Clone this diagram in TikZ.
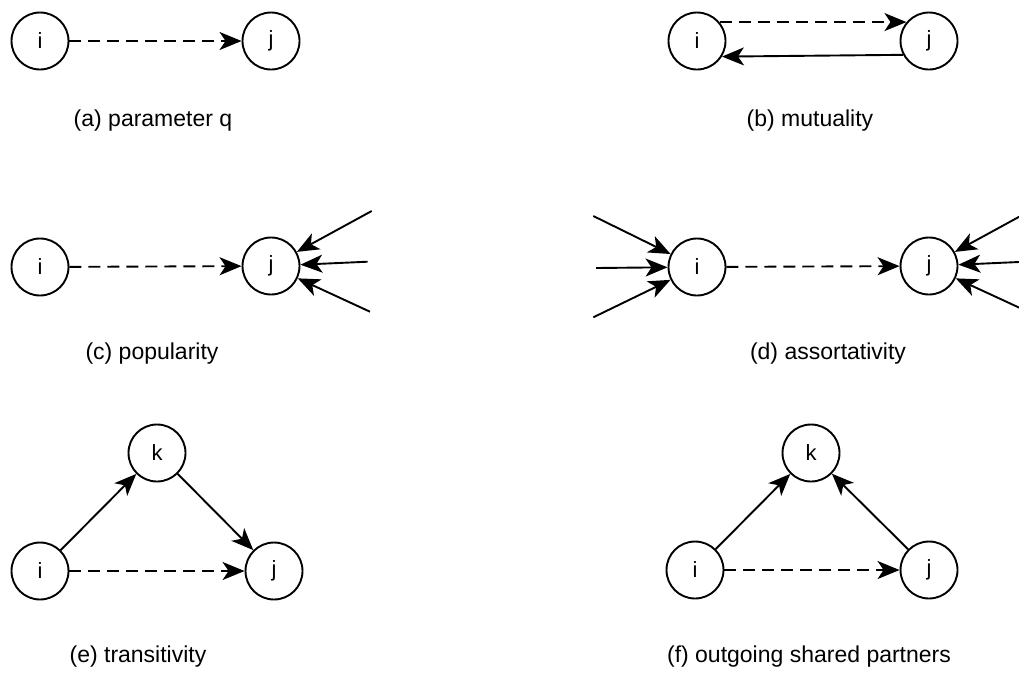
\documentclass[tikz,border=0pt]{standalone}
\usepackage{fontspec}
\setmainfont{Liberation Sans}
\usetikzlibrary{arrows.meta}
\tikzset{
  vert/.style={circle, draw, line width=1.9pt, minimum size=57pt, inner sep=0pt, font=\fontsize{22}{26}\selectfont},
  lbl/.style={font=\fontsize{23}{27}\selectfont, inner sep=0pt},
  arr/.style={line width=1.9pt, -{Stealth[length=22pt, width=18pt, inset=6pt]}},
  darr/.style={arr, dash pattern=on 12pt off 7pt},
}
\begin{document}
\begin{tikzpicture}[x=1pt, y=-1pt]
\clip (0,0) rectangle (1019,673);
\fill[white] (0,0) rectangle (1019,673);
% (a)
\node[vert] (ai) at (40,41) {i};
\node[vert] (aj) at (271,41) {j};
\draw[darr] (ai) -- (aj);
\node[lbl] (la) at (153,121) {(a) parameter q};
% (b)
\node[vert] (bi) at (697,41) {i};
\node[vert] (bj) at (929,41) {j};
\draw[darr] (bi.40) -- (bj.140);
\draw[arr] (bj.208) -- (bi.328);
\node[lbl] (lb) at (810,121) {(b) mutuality};
% (c)
\node[vert] (ci) at (40,267) {i};
\node[vert] (cj) at (271,266) {j};
\draw[darr] (ci) -- (cj);
\coordinate (c1) at (371.7,211);
\coordinate (c2) at (367.7,261.7);
\coordinate (c3) at (370,311.7);
\draw[arr] (c1) -- (cj);
\draw[arr] (c2) -- (cj);
\draw[arr] (c3) -- (cj);
\node[lbl] (lc) at (152,354) {(c) popularity};
% (d)
\node[vert] (di) at (697,267) {i};
\node[vert] (dj) at (929,266) {j};
\draw[darr] (di) -- (dj);
\coordinate (d1) at (593.3,216);
\coordinate (d2) at (596,268);
\coordinate (d3) at (593.3,317.3);
\draw[arr] (d1) -- (di);
\draw[arr] (d2) -- (di);
\draw[arr] (d3) -- (di);
\coordinate (d4) at (1029.7,211);
\coordinate (d5) at (1025.7,261.7);
\coordinate (d6) at (1028,311.7);
\draw[arr] (d4) -- (dj);
\draw[arr] (d5) -- (dj);
\draw[arr] (d6) -- (dj);
\node[lbl] (ld) at (828,354) {(d) assortativity};
% (e)
\node[vert] (ek) at (157,453) {k};
\node[vert] (ei) at (40,571) {i};
\node[vert] (ej) at (274,571) {j};
\draw[arr] (ei) -- (ek);
\draw[arr] (ek) -- (ej);
\draw[darr] (ei) -- (ej);
\node[lbl] (le) at (138,657) {(e) transitivity};
% (f)
\node[vert] (fk) at (811,453) {k};
\node[vert] (fi) at (695,570) {i};
\node[vert] (fj) at (929,570) {j};
\draw[arr] (fi) -- (fk);
\draw[arr] (fj) -- (fk);
\draw[darr] (fi) -- (fj);
\node[lbl] (lf) at (809,657) {(f) outgoing shared partners};
\end{tikzpicture}
\end{document}
